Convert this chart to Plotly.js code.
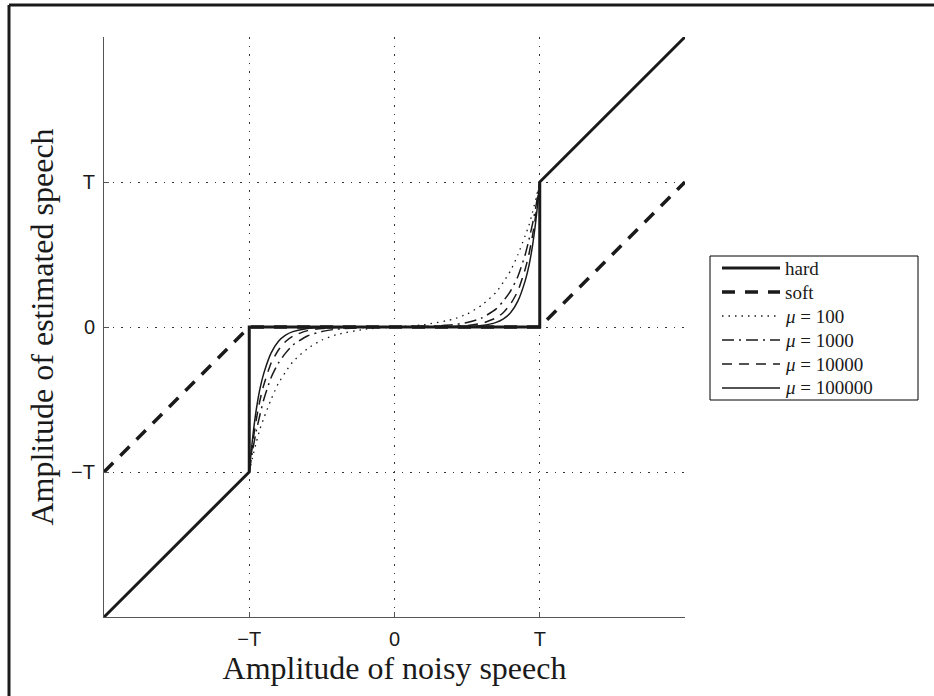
<!DOCTYPE html>
<html>
<head>
<meta charset="utf-8">
<script src="https://cdn.plot.ly/plotly-3.0.1.min.js"></script>
<style>
html,body{margin:0;padding:0;background:#fff;}
#chart{width:934px;height:696px;}
</style>
</head>
<body>
<div id="chart"></div>
<script>
// Values in units of the threshold T
const tickVals = [-1, 0, 1];
const tickText = ['\u2212T', '0', 'T'];

const hardX = [-2, -1, -1, 1, 1, 2];
const hardY = [-2, -1, 0, 0, 1, 2];

const softX = [-2, -1, 1, 2];
const softY = [-1, 0, 0, 1];

const muX = [-1, -0.975, -0.95, -0.925, -0.9, -0.85, -0.8, -0.75, -0.7, -0.6, -0.5, -0.4, -0.2, 0,
             0.2, 0.4, 0.5, 0.6, 0.7, 0.75, 0.8, 0.85, 0.9, 0.925, 0.95, 0.975, 1];
const mu100Y = [-1, -0.89, -0.79, -0.70, -0.63, -0.50, -0.39, -0.31, -0.24, -0.15, -0.09, -0.053, -0.015, 0,
                0.015, 0.053, 0.09, 0.15, 0.24, 0.31, 0.39, 0.50, 0.63, 0.70, 0.79, 0.89, 1];
const mu1000Y = [-1, -0.84, -0.71, -0.60, -0.50, -0.35, -0.25, -0.18, -0.125, -0.062, -0.031, -0.015, -0.003, 0,
                 0.003, 0.015, 0.031, 0.062, 0.125, 0.18, 0.25, 0.35, 0.50, 0.60, 0.71, 0.84, 1];
const mu10000Y = [-1, -0.79, -0.63, -0.50, -0.40, -0.25, -0.16, -0.10, -0.063, -0.025, -0.010, -0.004, -0.0005, 0,
                  0.0005, 0.004, 0.010, 0.025, 0.063, 0.10, 0.16, 0.25, 0.40, 0.50, 0.63, 0.79, 1];
const mu100000Y = [-1, -0.75, -0.56, -0.42, -0.32, -0.18, -0.10, -0.056, -0.032, -0.010, -0.003, -0.001, 0, 0,
                   0, 0.001, 0.003, 0.010, 0.032, 0.056, 0.10, 0.18, 0.32, 0.42, 0.56, 0.75, 1];

const seriesNames = ['hard', 'soft', '<i>\u03bc</i> = 100', '<i>\u03bc</i> = 1000', '<i>\u03bc</i> = 10000', '<i>\u03bc</i> = 100000'];

const ink = '#1a1a1a';
const serif = 'Liberation Serif, Times New Roman, serif';

const lineStyles = [
  {color: ink, width: 3},
  {color: ink, width: 3.5, dash: '13px,10px'},
  {color: ink, width: 1.3, dash: '1.5px,5px'},
  {color: ink, width: 1.5, dash: '12px,5px,2px,5px'},
  {color: ink, width: 1.5, dash: '10px,7px'},
  {color: ink, width: 1.5}
];

const seriesX = [hardX, softX, muX, muX, muX, muX];
const seriesY = [hardY, softY, mu100Y, mu1000Y, mu10000Y, mu100000Y];

const traces = seriesX.map((xs, i) => ({
  x: xs, y: seriesY[i], name: seriesNames[i], mode: 'lines', showlegend: false,
  line: Object.assign({}, lineStyles[i], i >= 2 ? {shape: 'spline', smoothing: 0.6} : {})
}));

const axisCommon = {
  range: [-2, 2],
  tickmode: 'array',
  tickvals: tickVals,
  ticktext: tickText,
  ticks: 'inside',
  ticklen: 5,
  tickcolor: '#555',
  showline: true,
  linecolor: '#555',
  linewidth: 1,
  zeroline: false,
  showgrid: true,
  gridcolor: '#333',
  gridwidth: 1,
  griddash: '1.5px,7px',
  tickfont: {family: 'Liberation Sans, Arial, sans-serif', size: 20, color: ink},
  fixedrange: true
};

// plot-area geometry (pixels) used to place the hand-built legend box
const M = {l: 104, r: 249, t: 37, b: 79};
const W = 934, H = 696;
const pw = W - M.l - M.r, ph = H - M.t - M.b;
const px = v => (v - M.l) / pw;
const py = v => (H - M.b - v) / ph;

const legBox = {x0: 710, x1: 918, y0: 256, y1: 400};
const legRow0 = 268, legStep = 24, legLine0 = 722, legLine1 = 780, legText = 784;

const shapes = [
  {type: 'line', xref: 'paper', yref: 'paper', x0: px(9), x1: px(W + 10), y0: py(5), y1: py(5), line: {color: ink, width: 3}},
  {type: 'line', xref: 'paper', yref: 'paper', x0: px(9), x1: px(9), y0: py(5), y1: py(H + 10), line: {color: ink, width: 3}},
  {type: 'rect', xref: 'paper', yref: 'paper', x0: px(legBox.x0), x1: px(legBox.x1), y0: py(legBox.y0), y1: py(legBox.y1),
   line: {color: '#000', width: 1}, fillcolor: '#fff', layer: 'above'}
];
const annotations = [];
seriesNames.forEach((name, i) => {
  const yy = py(legRow0 + i * legStep);
  shapes.push({type: 'line', xref: 'paper', yref: 'paper', x0: px(legLine0), x1: px(legLine1), y0: yy, y1: yy,
               line: lineStyles[i], layer: 'above'});
  annotations.push({xref: 'paper', yref: 'paper', x: px(legText), y: yy, xanchor: 'left', yanchor: 'middle',
                    text: name, showarrow: false, borderpad: 0, font: {family: serif, size: 19, color: ink}});
});

const layout = {
  width: W,
  height: H,
  margin: M,
  paper_bgcolor: '#fff',
  plot_bgcolor: '#fff',
  showlegend: false,
  xaxis: Object.assign({}, axisCommon, {
    ticklabelstandoff: 4,
    title: {text: 'Amplitude of noisy speech', font: {family: serif, size: 32, color: ink}, standoff: 4}
  }),
  yaxis: Object.assign({}, axisCommon, {
    ticklabelstandoff: 4,
    title: {text: 'Amplitude of estimated speech', font: {family: serif, size: 32, color: ink}, standoff: 7}
  }),
  shapes: shapes,
  annotations: annotations
};

Plotly.newPlot('chart', traces, layout, {displayModeBar: false, staticPlot: true});
</script>
</body>
</html>
